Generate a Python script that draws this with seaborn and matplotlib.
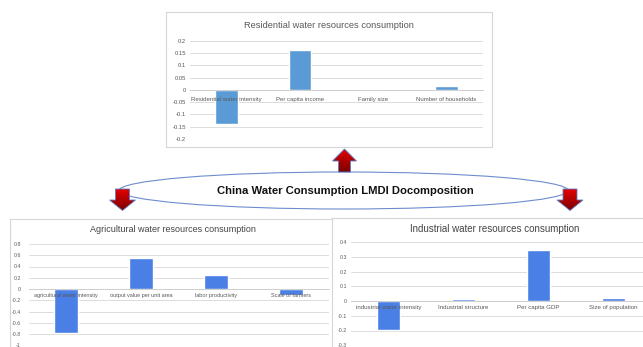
import numpy as np
import matplotlib
matplotlib.use("Agg")
import matplotlib.pyplot as plt
from matplotlib.patches import Ellipse, Polygon
from matplotlib.colors import to_rgb
import seaborn as sns

# ---- data -------------------------------------------------------------
res_title = "Residential water resources consumption"
res_factors = ["Residential water intensity", "Per capita income", "Family size", "Number of households"]
res_effects = [-0.138, 0.164, -0.003, 0.015]
res_ticks = [0.2, 0.15, 0.1, 0.05, 0, -0.05, -0.1, -0.15, -0.2]

agr_title = "Agricultural water resources consumption"
agr_factors = ["agricultural water intensity", "output value per unit area", "labor productivity", "Scale of farmers"]
agr_effects = [-0.78, 0.56, 0.255, -0.1]
agr_ticks = [0.8, 0.6, 0.4, 0.2, 0, -0.2, -0.4, -0.6, -0.8, -1]

ind_title = "Industrial water resources consumption"
ind_factors = ["industrial water intensity", "Industrial structure", "Per capita GDP", "Size of population"]
ind_effects = [-0.194, 0.011, 0.343, 0.023]
ind_ticks = [0.4, 0.3, 0.2, 0.1, 0, -0.1, -0.2, -0.3]

center_label = "China Water Consumption LMDI Docomposition"

# ---- figure -----------------------------------------------------------
W, H = 643, 347
sns.set_theme(style="white")
plt.rcParams["font.family"] = ["Liberation Sans", "DejaVu Sans"]
fig = plt.figure(figsize=(W / 100, H / 100), dpi=100)
fig.patch.set_facecolor("white")


def rect(x0, y0, x1, y1):
    return [x0 / W, 1 - y1 / H, (x1 - x0) / W, (y1 - y0) / H]


def frame(x0, y0, x1, y1, z):
    a = fig.add_axes(rect(x0, y0, x1, y1), zorder=z)
    a.set_xticks([])
    a.set_yticks([])
    a.set_facecolor("white")
    for s in a.spines.values():
        s.set_color("#d6d6d6")
        s.set_linewidth(0.8)
    return a


def fmt(v):
    return "0" if v == 0 else ("%g" % v)


def chart(pos, factors, effects, ticks, ylim, color, z, ylab_pad, xlab_off, xfs, yfs):
    ax = fig.add_axes(rect(*pos), zorder=z)
    ax.set_facecolor("none")
    sns.barplot(x=factors, y=effects, ax=ax, color=color, saturation=1, width=0.31)
    ax.set_xlim(-0.5, 3.5)
    ax.set_ylim(*ylim)
    ax.set_yticks(ticks)
    ax.set_yticklabels([fmt(t) for t in ticks], fontsize=yfs, color="#595959")
    ax.grid(axis="y", color="#dcdcdc", linewidth=0.7)
    ax.grid(axis="x", visible=False)
    ax.set_axisbelow(True)
    for s in ["top", "right", "left"]:
        ax.spines[s].set_visible(False)
    ax.spines["bottom"].set_position(("data", 0))
    ax.spines["bottom"].set_color("#cfcfcf")
    ax.spines["bottom"].set_linewidth(0.7)
    ax.tick_params(axis="y", length=0, pad=ylab_pad)
    ax.tick_params(axis="x", length=0, labelbottom=False)
    ax.set_xlabel("")
    ax.set_ylabel("")
    # category names sit just under the zero line, on top of the bars
    for i, name in enumerate(factors):
        ax.annotate(name, (i, 0), xytext=(0, -xlab_off), textcoords="offset points",
                    ha="center", va="center", fontsize=xfs, color="#595959",
                    zorder=6, annotation_clip=False)
    return ax


# top: residential
frame(166, 12, 492, 147, 0)
chart((190, 41, 483, 139), res_factors, res_effects, res_ticks, (-0.2, 0.2),
      "#5b9bd5", 1, 3.0, 6.5, 4.3, 4.2)
fig.text(329 / W, 1 - 25 / H, res_title, ha="center", va="center",
         fontsize=6.7, color="#595959")

# bottom-left: agricultural
frame(10, 219, 700, 400, 2)
chart((28.5, 244, 328.5, 345.25), agr_factors, agr_effects, agr_ticks, (-1, 0.8),
      "#4a7fe6", 3, 5.4, 5.0, 4.0, 3.8)
fig.text(173 / W, 1 - 230 / H, agr_title, ha="center", va="center",
         fontsize=6.5, color="#444444", zorder=3)

# bottom-right: industrial
frame(332, 218, 700, 400, 4)
chart((351, 242, 651, 345.25), ind_factors, ind_effects, ind_ticks, (-0.3, 0.4),
      "#4a7fe6", 5, 3.0, 5.0, 4.4, 3.8)
fig.text(495 / W, 1 - 229 / H, ind_title, ha="center", va="center",
         fontsize=7.0, color="#444444", zorder=5)

# ---- central ellipse with arrows -------------------------------------
ov = fig.add_axes([0, 0, 1, 1], zorder=10)
ov.set_facecolor("none")
ov.set_xlim(0, W)
ov.set_ylim(H, 0)
ov.axis("off")

ov.add_patch(Ellipse((343.5, 190.5), 449, 37, facecolor="white",
                     edgecolor="#6d8ccf", linewidth=0.8))
ov.text(345, 191, center_label, ha="center", va="center",
        fontsize=8.1, fontweight="bold", color="#111111")

top_rgb = np.array(to_rgb("#e30000"))
bot_rgb = np.array(to_rgb("#7a0000"))
grad = np.linspace(0, 1, 64)[:, None, None] * (bot_rgb - top_rgb) + top_rgb
grad = np.repeat(grad, 2, axis=1)


def arrow(pts):
    poly = Polygon(pts, closed=True, facecolor="none", edgecolor="#5b7fc9",
                   linewidth=0.6, zorder=3)
    ov.add_patch(poly)
    xs = [p[0] for p in pts]
    ys = [p[1] for p in pts]
    im = ov.imshow(grad, extent=(min(xs), max(xs), max(ys), min(ys)),
                   origin="upper", aspect="auto", zorder=2, interpolation="bilinear")
    im.set_clip_path(poly)


# upward arrow toward the residential panel
cx = 344.5
arrow([(cx, 149), (cx + 12, 161), (cx + 6, 161), (cx + 6, 172),
       (cx - 6, 172), (cx - 6, 161), (cx - 12, 161)])
# downward arrows toward the two lower panels
for cx in (122.5, 570):
    arrow([(cx - 7, 189), (cx + 7, 189), (cx + 7, 200), (cx + 13, 200),
           (cx, 210.5), (cx - 13, 200), (cx - 7, 200)])

ov.set_xlim(0, W)
ov.set_ylim(H, 0)

fig.savefig("out.png", dpi=100)
